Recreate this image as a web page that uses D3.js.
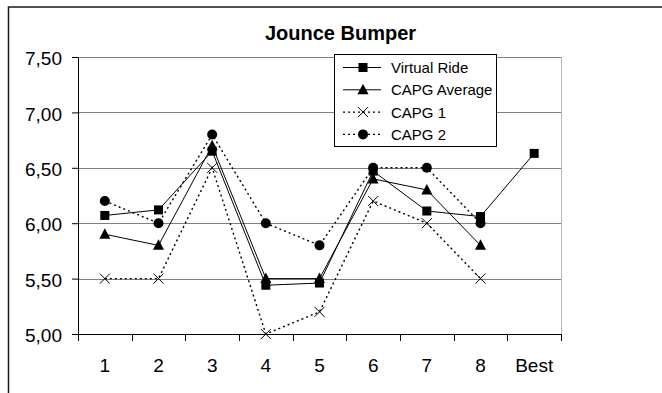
<!DOCTYPE html>
<html>
<head>
<meta charset="utf-8">
<script src="https://cdn.jsdelivr.net/npm/d3@7"></script>
<style>
  html, body { margin: 0; padding: 0; background: #fff; }
  svg { display: block; font-family: "Liberation Sans", Arial, sans-serif; }
</style>
</head>
<body>
<svg id="chart" width="662" height="393"></svg>
<script>
// Rating per test run, plus the "Best" target value
const categories = ["1", "2", "3", "4", "5", "6", "7", "8", "Best"];
const virtualRide = [6.07, 6.12, 6.65, 5.44, 5.46, 6.47, 6.11, 6.06, 6.63];
const capgAverage = [5.90, 5.80, 6.70, 5.50, 5.50, 6.40, 6.30, 5.80, null];
const capg1 = [5.50, 5.50, 6.50, 5.00, 5.20, 6.20, 6.00, 5.50, null];
const capg2 = [6.20, 6.00, 6.80, 6.00, 5.80, 6.50, 6.50, 6.00, null];
const yTicks = [5.00, 5.50, 6.00, 6.50, 7.00, 7.50];
const chartTitle = "Jounce Bumper";

const series = [
  { name: "Virtual Ride", values: virtualRide, marker: "square", dash: null },
  { name: "CAPG Average", values: capgAverage, marker: "triangle", dash: null },
  { name: "CAPG 1", values: capg1, marker: "cross", dash: "2,3" },
  { name: "CAPG 2", values: capg2, marker: "circle", dash: "2,3" }
];

const svg = d3.select("#chart");
const plot = { left: 78, right: 561, top: 57, bottom: 334 };

const x = d3.scaleBand().domain(categories).range([plot.left, plot.right]).padding(0);
const y = d3.scaleLinear().domain([5, 7.5]).range([plot.bottom, plot.top]);
const cx = c => x(c) + x.bandwidth() / 2;

const commaFormat = d3.formatLocale({ decimal: ",", thousands: ".", grouping: [3], currency: ["", ""] }).format(".2f");

// Outer chart frame (only top and left edges fall inside the view)
svg.append("rect")
  .attr("x", 8.5).attr("y", 7)
  .attr("width", 700).attr("height", 420)
  .attr("fill", "none").attr("stroke", "#1a1a1a").attr("stroke-width", 1.5);

// Title
svg.append("text")
  .attr("x", 340.5).attr("y", 40)
  .attr("text-anchor", "middle")
  .attr("font-size", 20).attr("font-weight", "bold")
  .text(chartTitle);

// Horizontal gridlines
svg.append("g").selectAll("line")
  .data(yTicks.filter(v => v > 5))
  .join("line")
  .attr("x1", plot.left).attr("x2", plot.right)
  .attr("y1", d => Math.round(y(d)) + 0.5).attr("y2", d => Math.round(y(d)) + 0.5)
  .attr("stroke", "#808080").attr("stroke-width", 1);

// Plot area right border
svg.append("line")
  .attr("x1", plot.right + 0.5).attr("x2", plot.right + 0.5)
  .attr("y1", plot.top).attr("y2", plot.bottom)
  .attr("stroke", "#b8b8b8").attr("stroke-width", 1);

// Y axis
const yAxis = svg.append("g")
  .attr("transform", `translate(${plot.left},0)`)
  .call(d3.axisLeft(y).tickValues(yTicks).tickFormat(commaFormat).tickSizeInner(6).tickSizeOuter(0).tickPadding(10));
yAxis.selectAll("text").attr("font-size", 19).attr("font-family", "Liberation Sans, Arial, sans-serif").attr("fill", "#000").attr("dy", "0.4em");
yAxis.selectAll("line, path").attr("stroke", "#000");

// X axis: labels at category centres, tick marks on category boundaries
const xAxis = svg.append("g")
  .attr("transform", `translate(0,${plot.bottom})`)
  .call(d3.axisBottom(x).tickSize(0).tickPadding(25));
xAxis.select("path").attr("stroke", "#000");
xAxis.selectAll("text").attr("font-size", 19).attr("font-family", "Liberation Sans, Arial, sans-serif").attr("fill", "#000");
const boundaries = categories.map(c => x(c)).concat([plot.right]);
svg.append("g").selectAll("line")
  .data(boundaries)
  .join("line")
  .attr("x1", d => Math.round(d) + 0.5).attr("x2", d => Math.round(d) + 0.5)
  .attr("y1", plot.bottom).attr("y2", plot.bottom + 7)
  .attr("stroke", "#000");

// Marker drawing
function drawMarker(g, type, px, py) {
  if (type === "square") {
    g.append("rect").attr("x", px - 4.5).attr("y", py - 4.5).attr("width", 9).attr("height", 9).attr("fill", "#000");
  } else if (type === "triangle") {
    g.append("path").attr("d", `M${px},${py - 6}L${px + 5.5},${py + 4.5}L${px - 5.5},${py + 4.5}Z`).attr("fill", "#000");
  } else if (type === "circle") {
    g.append("circle").attr("cx", px).attr("cy", py).attr("r", 5).attr("fill", "#000");
  } else if (type === "cross") {
    g.append("path").attr("d", `M${px - 5},${py - 5}L${px + 5},${py + 5}M${px + 5},${py - 5}L${px - 5},${py + 5}`)
      .attr("stroke", "#000").attr("stroke-width", 1).attr("fill", "none");
  }
}

// Series lines and markers
const line = d3.line()
  .defined(d => d.v != null)
  .x(d => cx(d.c))
  .y(d => y(d.v));

series.forEach(s => {
  const pts = categories.map((c, i) => ({ c, v: s.values[i] }));
  svg.append("path")
    .datum(pts)
    .attr("d", line)
    .attr("fill", "none")
    .attr("stroke", "#000")
    .attr("stroke-width", s.dash ? 1.4 : 1)
    .attr("stroke-dasharray", s.dash);
});
series.forEach(s => {
  const g = svg.append("g");
  categories.forEach((c, i) => {
    if (s.values[i] != null) drawMarker(g, s.marker, cx(c), y(s.values[i]));
  });
});

// Legend
const legend = svg.append("g");
legend.append("rect")
  .attr("x", 334.5).attr("y", 54.5).attr("width", 162).attr("height", 92)
  .attr("fill", "#fff").attr("stroke", "#000").attr("stroke-width", 1);
series.forEach((s, i) => {
  const ly = 67.5 + i * 22.3;
  legend.append("line")
    .attr("x1", 343).attr("x2", 381).attr("y1", ly).attr("y2", ly)
    .attr("stroke", "#000").attr("stroke-width", s.dash ? 1.4 : 1)
    .attr("stroke-dasharray", s.dash);
  drawMarker(legend, s.marker, 363, ly);
  legend.append("text")
    .attr("x", 391).attr("y", ly + 5.5)
    .attr("font-size", 15)
    .text(s.name);
});
</script>
</body>
</html>
